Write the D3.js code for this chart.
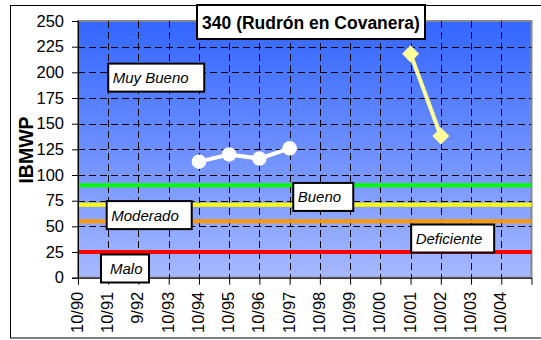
<!DOCTYPE html>
<html>
<head>
<meta charset="utf-8">
<script src="https://cdn.jsdelivr.net/npm/d3@7/dist/d3.min.js"></script>
<style>
  html, body { margin: 0; padding: 0; background: #fff; }
  svg { display: block; }
  text { font-family: "Liberation Sans", Arial, sans-serif; }
</style>
</head>
<body>
<script>
// Sampling dates (x axis categories)
const categories = ["10/90","10/91","9/92","10/93","10/94","10/95","10/96","10/97",
                    "10/98","10/99","10/00","10/01","10/02","10/03","10/04"];
// IBMWP index, first sampling period (white line)
const seriesWhite = [null,null,null,null,113,120,116,126,null,null,null,null,null,null,null];
// IBMWP index, second sampling period (yellow line)
const seriesYellow = [null,null,null,null,null,null,null,null,null,null,null,218,138,null,null];
// Quality class limits
const thresholdValues = [90, 71, 55, 25];
const thresholdColors = ["#00ff00", "#ffff00", "#ff9900", "#ff0000"];
// Class names
const classNames = ["Muy Bueno", "Bueno", "Moderado", "Deficiente", "Malo"];
// Y axis ticks
const yTicks = [0,25,50,75,100,125,150,175,200,225,250];
const title = "340 (Rudrón en Covanera)";
const yTitle = "IBMWP";

const W = 541, H = 340;
const plot = { left: 78, right: 531.5, top: 21, bottom: 277.7 };

const svg = d3.select("body").append("svg").attr("width", W).attr("height", H);

// outer chart frame
svg.append("rect").attr("x", 10.5).attr("y", 5.5).attr("width", 545).attr("height", 332.5)
  .attr("fill", "#fff").attr("stroke", "#000").attr("stroke-width", 1);

const x = d3.scaleLinear().domain([0, categories.length]).range([plot.left, plot.right]);
const y = d3.scaleLinear().domain([0, 250]).range([plot.bottom, plot.top]);

// plot area gradient
const defs = svg.append("defs");
const grad = defs.append("linearGradient").attr("id", "bg").attr("x1", 0).attr("y1", 0).attr("x2", 0).attr("y2", 1);
grad.append("stop").attr("offset", "0%").attr("stop-color", "#3366ff");
grad.append("stop").attr("offset", "100%").attr("stop-color", "#a6b8ff");

svg.append("rect")
  .attr("x", plot.left).attr("y", plot.top)
  .attr("width", plot.right - plot.left).attr("height", plot.bottom - plot.top)
  .attr("fill", "url(#bg)").attr("stroke", "#888").attr("stroke-width", 2);

// dashed gridlines
const grid = svg.append("g").attr("stroke", "#000").attr("stroke-width", 1).attr("stroke-dasharray", "7,4");
grid.selectAll("line.h").data(yTicks.filter(v => v > 0 && v < 250)).join("line")
  .attr("x1", plot.left).attr("x2", plot.right)
  .attr("y1", d => Math.round(y(d)) + 0.5).attr("y2", d => Math.round(y(d)) + 0.5);
grid.selectAll("line.v").data(d3.range(1, categories.length)).join("line")
  .attr("y1", plot.top).attr("y2", plot.bottom)
  .attr("x1", d => Math.round(x(d)) + 0.5).attr("x2", d => Math.round(x(d)) + 0.5);

// class limit lines
svg.append("g").selectAll("line").data(thresholdValues).join("line")
  .attr("x1", plot.left).attr("x2", plot.right)
  .attr("y1", d => y(d)).attr("y2", d => y(d))
  .attr("stroke", (d, i) => thresholdColors[i]).attr("stroke-width", 4);

// axes
const yAxis = d3.axisLeft(y).tickValues(yTicks).tickSize(6).tickPadding(8);
const gy = svg.append("g").attr("transform", `translate(${plot.left},0)`).call(yAxis);
gy.select(".domain").attr("stroke", "#000");
gy.selectAll("text").attr("font-size", 16.5).attr("fill", "#000");

const xAxis = d3.axisBottom(x).tickValues(d3.range(0, categories.length))
  .tickFormat(i => categories[i]).tickSize(7);
const gx = svg.append("g").attr("transform", `translate(0,${plot.bottom})`).call(xAxis);
gx.select(".domain").attr("stroke", "#000");
gx.selectAll("text")
  .attr("font-size", 16.5).attr("fill", "#000")
  .attr("text-anchor", "end").attr("dy", null)
  .attr("transform", "translate(4.5,14) rotate(-90)")
  .attr("x", 0).attr("y", 0);

// y axis title
svg.append("text").attr("transform", "translate(33,150) rotate(-90)")
  .attr("text-anchor", "middle").attr("font-weight", "bold").attr("font-size", 19.5).text(yTitle);

// class label boxes: anchored in data coordinates (category index, value) at box top-left
const boxes = [
  { name: classNames[0], i: 1.0, v: 208.5, w: 96, h: 28, pad: 4.5 },
  { name: classNames[1], i: 7.12, v: 92.3, w: 60, h: 28, pad: 4.5 },
  { name: classNames[2], i: 0.95, v: 74.6, w: 85, h: 28, pad: 4.5 },
  { name: classNames[3], i: 11.02, v: 51.8, w: 83, h: 28, pad: 4.5 },
  { name: classNames[4], i: 0.76, v: 22.6, w: 48, h: 28, pad: 9 }
];
const bg = svg.append("g");
boxes.forEach(b => {
  const bx = x(b.i), by = y(b.v);
  bg.append("rect").attr("x", bx).attr("y", by).attr("width", b.w).attr("height", b.h)
    .attr("fill", "#fff").attr("stroke", "#000").attr("stroke-width", 2);
  bg.append("text").attr("x", bx + b.pad).attr("y", by + b.h / 2 + 5.5)
    .attr("font-size", 15).attr("font-style", "italic").text(b.name);
});

// data series
function drawSeries(values, color, marker, size) {
  const pts = values.map((v, i) => ({ i, v })).filter(d => d.v !== null);
  svg.append("path").datum(pts)
    .attr("d", d3.line().x(d => x(d.i)).y(d => y(d.v)))
    .attr("fill", "none").attr("stroke", color).attr("stroke-width", 4);
  svg.append("g").selectAll("path").data(pts).join("path")
    .attr("transform", d => `translate(${x(d.i)},${y(d.v)})`)
    .attr("d", d3.symbol().type(marker).size(size)())
    .attr("fill", color);
}
drawSeries(seriesWhite, "#ffffff", d3.symbolCircle, 165);
drawSeries(seriesYellow, "#ffff99", d3.symbolDiamond2, 185);

// title box
svg.append("rect").attr("x", 197).attr("y", 5).attr("width", 228).attr("height", 34)
  .attr("fill", "#fff").attr("stroke", "#000").attr("stroke-width", 2);
svg.append("text").attr("x", 311).attr("y", 28.5).attr("text-anchor", "middle")
  .attr("font-size", 17.5).attr("font-weight", "bold").text(title);
</script>
</body>
</html>
